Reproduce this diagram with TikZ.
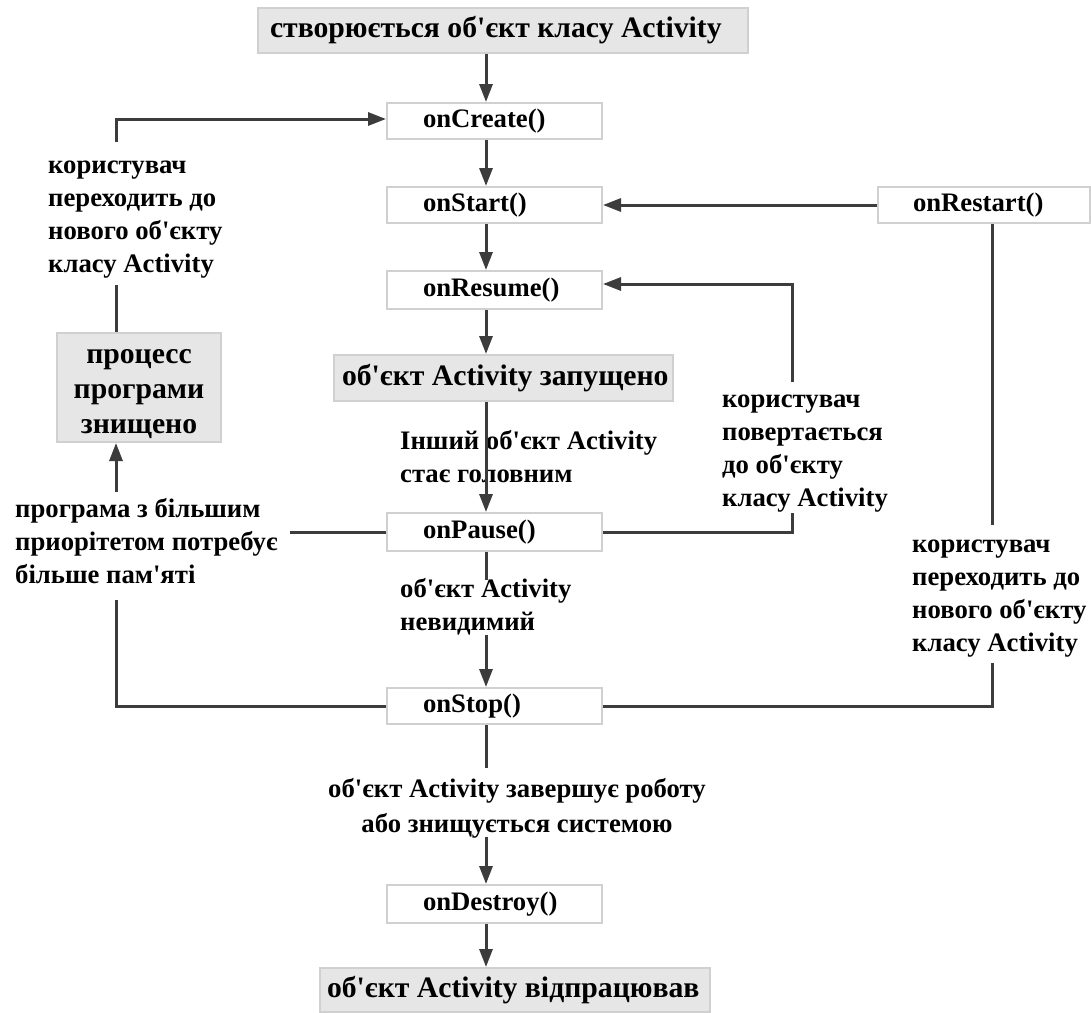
\documentclass[tikz,border=0pt]{standalone}
\usepackage{fontspec}
\newfontfamily\lib{Liberation Serif}
\usetikzlibrary{arrows.meta}
\definecolor{ln}{HTML}{3C3C3C}
\definecolor{bx}{HTML}{D0D0D0}
\definecolor{gf}{HTML}{E6E6E6}
\newcommand\LBox[2]{\makebox[#1][l]{#2}}
\begin{document}
\begin{tikzpicture}[x=1pt,y=-1pt,
  font=\lib\bfseries\fontsize{26.7}{33}\selectfont,
  box/.style={draw=bx,line width=2pt,fill=white,minimum width=215pt,minimum height=36pt,inner sep=0pt},
  gbox/.style={box,fill=gf,font=\lib\bfseries\fontsize{29.7}{35}\selectfont},
  lbl/.style={align=left,inner sep=0pt,anchor=west},
  conn/.style={draw=ln,line width=3pt},
  arr/.style={conn,-{Triangle[length=18pt,width=13pt]}}]
\useasboundingbox[fill=white] (0,0) rectangle (1091,1012);
% axes
\coordinate (ax) at (486,0);
\coordinate (lx) at (116,0);
\coordinate (rx) at (992,0);
\coordinate (mx) at (792,0);
% main nodes
\node[gbox,minimum width=490pt,minimum height=45pt] (create) at (503,30.5) {\LBox{466pt}{створюється об'єкт класу Activity}};
\node[box] (onCreate) at (494.5,121) {\LBox{143pt}{onCreate()}};
\node[box] (onStart) at (494.5,205) {\LBox{143pt}{onStart()}};
\node[box,minimum width=212pt] (onRestart) at (984,205) {\LBox{142pt}{onRestart()}};
\node[box,minimum height=38pt] (onResume) at (494.5,290) {\LBox{143pt}{onResume()}};
\node[gbox,minimum width=339pt,minimum height=46pt] (running) at (503.5,378) {\LBox{323pt}{об'єкт Activity запущено}};
\node[box,minimum height=38pt] (onPause) at (494.5,532) {\LBox{143pt}{onPause()}};
\node[box] (onStop) at (494.5,706) {\LBox{143pt}{onStop()}};
\node[box,minimum height=38pt] (onDestroy) at (494.5,904) {\LBox{143pt}{onDestroy()}};
\node[gbox,minimum width=390pt,minimum height=44pt] (done) at (515,990) {\LBox{376pt}{об'єкт Activity відпрацював}};
\node[gbox,minimum width=164pt,minimum height=109pt] (killed) at (139,387.5) {};
\node[align=center,inner sep=0pt,font=\lib\bfseries\fontsize{29.7}{35}\selectfont] (killedTxt) at (139,394) {процесс\\програми\\знищено};
% labels
\node[lbl] (lblNewL) at (48,220) {користувач\\переходить до\\нового об'єкту\\класу Activity};
\node[lbl] (lblPri) at (15,541) {програма з більшим\\приорітетом потребує\\більше пам'яті};
\node[lbl] (lblOther) at (400,457) {Інший об'єкт Activity\\стає головним};
\node[lbl] (lblInv) at (400,607) {об'єкт Activity\\невидимий};
\node[align=center,inner sep=0pt,font=\lib\bfseries\fontsize{26.7}{35}\selectfont] (lblFin) at (517,808) {об'єкт Activity завершує роботу\\або знищується системою};
\node[lbl] (lblRet) at (722,454) {користувач\\повертається\\до об'єкту\\класу Activity};
\node[lbl] (lblNewR) at (912,599) {користувач\\переходить до\\нового об'єкту\\класу Activity};
% free ends
\coordinate (invTop) at (486,580);
\coordinate (invBot) at (486,635);
\coordinate (finTop) at (486,768);
\coordinate (finBot) at (486,837);
\coordinate (rTop) at (992,525);
\coordinate (rBot) at (992,663);
\coordinate (mTop) at (792,382);
\coordinate (mBot) at (792,513);
\coordinate (lTop) at (116,142);
\coordinate (lMid) at (116,285);
\coordinate (lPri) at (116,492);
\coordinate (lBot) at (116,600);
\coordinate (pEnd) at (290,532);
% main column
\draw[arr] (create.south -| ax) -- (onCreate.north -| ax);
\draw[arr] (onCreate.south -| ax) -- (onStart.north -| ax);
\draw[arr] (onStart.south -| ax) -- (onResume.north -| ax);
\draw[arr] (onResume.south -| ax) -- (running.north -| ax);
\draw[arr] (running.south -| ax) -- (onPause.north -| ax);
\draw[conn] (onPause.south -| ax) -- (invTop);
\draw[arr] (invBot) -- (onStop.north -| ax);
\draw[conn] (onStop.south -| ax) -- (finTop);
\draw[arr] (finBot) -- (onDestroy.north -| ax);
\draw[arr] (onDestroy.south -| ax) -- (done.north -| ax);
% right side
\draw[arr] (onRestart.west) -- (onStart.east);
\draw[conn] (onRestart.south -| rx) -- (rTop);
\draw[conn] (onStop.east) -| (rBot);
\draw[arr] (mTop) |- ([yshift=6pt]onResume.east);
\draw[conn] (onPause.east) -| (mBot);
% left side
\draw[arr] (lTop) |- ([yshift=2pt]onCreate.west);
\draw[conn] (killed.north -| lx) -- (lMid);
\draw[arr] (lPri) -- (killed.south -| lx);
\draw[conn] (onPause.west) -- (pEnd);
\draw[conn] (onStop.west) -| (lBot);
\end{tikzpicture}
\end{document}
